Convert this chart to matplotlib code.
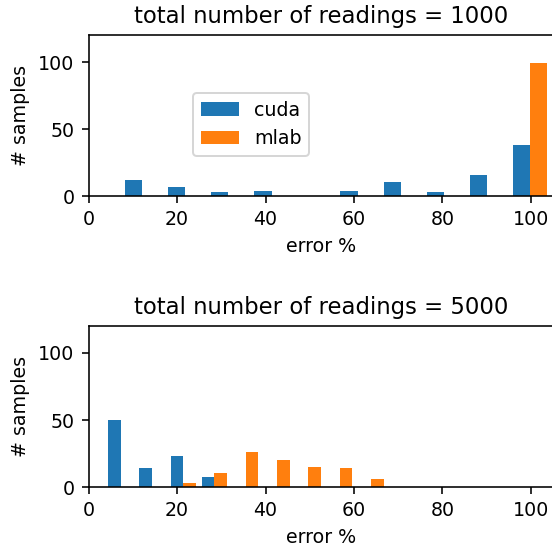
import numpy as np
import matplotlib
matplotlib.use("Agg")
import matplotlib.pyplot as plt

# bin edges (10 bins per panel)
edges_1000 = np.linspace(7.24, 104.7, 11)
edges_5000 = np.linspace(3.66, 74.5, 11)

# counts per bin
cuda_1000 = [12, 7, 3, 4, 0, 4, 11, 3, 16, 38]
mlab_1000 = [0, 0, 0, 0, 0, 0, 0, 0, 0, 99]
cuda_5000 = [50, 14, 23, 8, 0, 0, 0, 0, 0, 0]
mlab_5000 = [0, 0, 3, 11, 26, 20, 15, 14, 6, 0]

labels = ["cuda", "mlab"]
totals = [1000, 5000]

plt.rcParams["font.size"] = 9.5

DPI = 144
W, H = 552.0, 548.0
fig = plt.figure(figsize=(W / DPI, H / DPI), dpi=DPI)
ax1 = fig.add_axes([88.67 / W, 1 - 196.3 / H, (553 - 88.67) / W, 161 / H])
ax2 = fig.add_axes([88.67 / W, 1 - 487.3 / H, (553 - 88.67) / W, 161.3 / H])

panels = [
    (ax1, edges_1000, cuda_1000, mlab_1000, totals[0]),
    (ax2, edges_5000, cuda_5000, mlab_5000, totals[1]),
]
for ax, edges, cuda, mlab, total in panels:
    centers = 0.5 * (edges[:-1] + edges[1:])
    ax.hist([centers, centers], bins=edges, weights=[cuda, mlab],
            label=labels)
    ax.set_xlim(0, 105)
    ax.set_ylim(0, 120)
    ax.set_xticks([0, 20, 40, 60, 80, 100])
    ax.set_yticks([0, 50, 100])
    ax.set_xlabel("error %")
    ax.set_ylabel("# samples")
    ax.set_title(f"total number of readings = {total}")

ax1.legend(loc="upper left", bbox_to_anchor=(0.2247, 0.642),
           borderaxespad=0)

fig.savefig("out.png", dpi=DPI)
